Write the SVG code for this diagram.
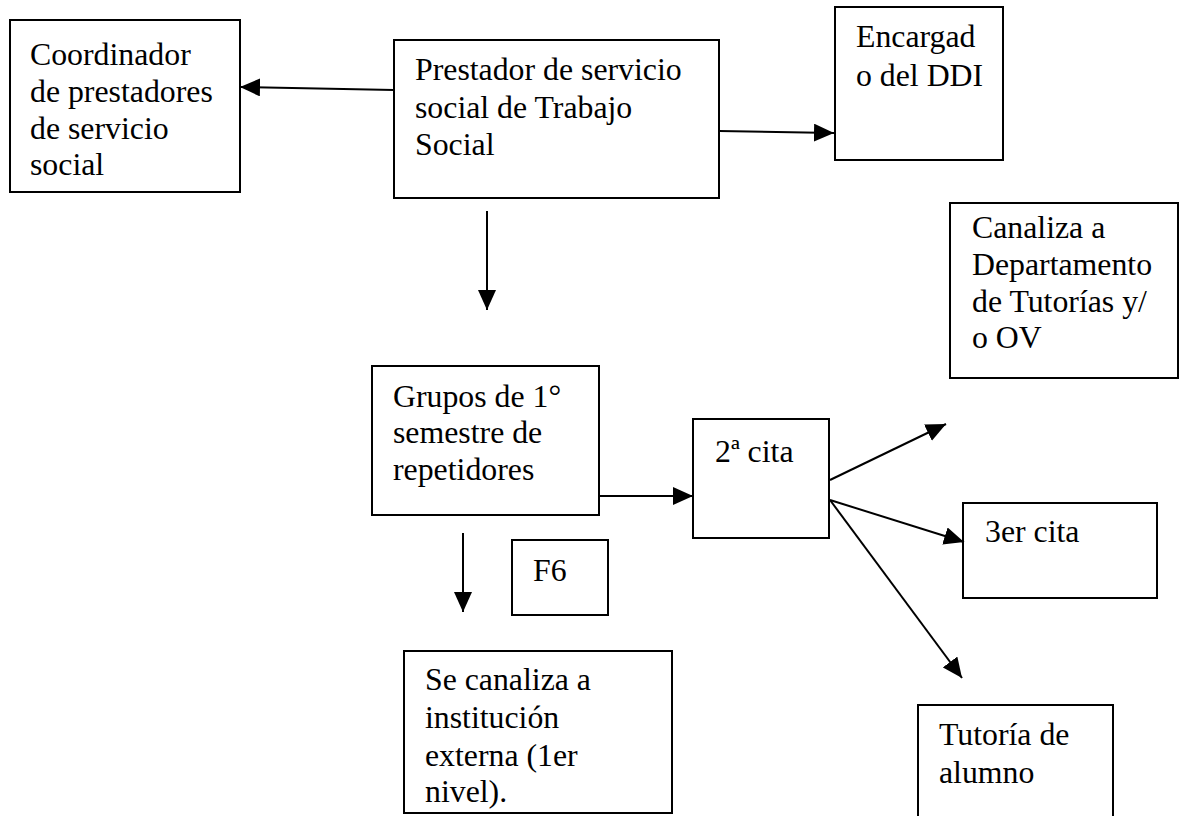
<svg xmlns="http://www.w3.org/2000/svg" width="1182" height="816" viewBox="0 0 1182 816">
<style>
.box{fill:#fff;stroke:#000;stroke-width:2}
.t{font-family:'Liberation Serif',Tinos,'Times New Roman',Times,'DejaVu Serif',serif;font-size:31.8px;fill:#000}
.c{stroke:#000;stroke-width:2;fill:none}
</style>
<defs>
<marker id="ah" viewBox="0 0 20 18" refX="20" refY="9" markerWidth="20" markerHeight="18" markerUnits="userSpaceOnUse" orient="auto">
<path d="M0,0 L20,9 L0,18 Z" fill="#000"/>
</marker>
</defs>
<rect width="1182" height="816" fill="#fff"/>
<g id="coordinador">
<rect class="box" x="10" y="20" width="230" height="172"/>
<text class="t" x="30" y="65">Coordinador</text>
<text class="t" x="30" y="102">de prestadores</text>
<text class="t" x="30" y="139">de servicio</text>
<text class="t" x="30" y="175">social</text>
</g>
<g id="prestador">
<rect class="box" x="394" y="40" width="325" height="158"/>
<text class="t" x="415" y="80">Prestador de servicio</text>
<text class="t" x="415" y="118">social de Trabajo</text>
<text class="t" x="415" y="155">Social</text>
</g>
<g id="encargado">
<rect class="box" x="835" y="7" width="168" height="153"/>
<text class="t" x="856" y="47">Encargad</text>
<text class="t" x="856" y="86">o del DDI</text>
</g>
<g id="canaliza">
<rect class="box" x="950" y="203" width="228" height="175"/>
<text class="t" x="972" y="238">Canaliza a</text>
<text class="t" x="972" y="275">Departamento</text>
<text class="t" x="972" y="312">de Tutorías y/</text>
<text class="t" x="972" y="348">o OV</text>
</g>
<g id="grupos">
<rect class="box" x="372" y="366" width="227" height="149"/>
<text class="t" x="393" y="407">Grupos de 1°</text>
<text class="t" x="393" y="443">semestre de</text>
<text class="t" x="393" y="480">repetidores</text>
</g>
<g id="cita2">
<rect class="box" x="693" y="419" width="136" height="119"/>
<text class="t" x="715" y="462">2ª cita</text>
</g>
<g id="cita3">
<rect class="box" x="963" y="503" width="194" height="95"/>
<text class="t" x="985" y="542">3er cita</text>
</g>
<g id="f6">
<rect class="box" x="512" y="540" width="96" height="75"/>
<text class="t" x="533" y="581">F6</text>
</g>
<g id="institucion">
<rect class="box" x="404" y="651" width="268" height="162"/>
<text class="t" x="425" y="690">Se canaliza a</text>
<text class="t" x="425" y="728">institución</text>
<text class="t" x="425" y="766">externa (1er</text>
<text class="t" x="425" y="802">nivel).</text>
</g>
<g id="tutoria">
<rect class="box" x="918" y="705" width="195" height="130"/>
<text class="t" x="939" y="745">Tutoría de</text>
<text class="t" x="939" y="783">alumno</text>
</g>
<g id="connectors">
<line class="c" x1="394" y1="90" x2="240" y2="87" marker-end="url(#ah)"/>
<line class="c" x1="719" y1="131" x2="834" y2="133" marker-end="url(#ah)"/>
<line class="c" x1="487" y1="211" x2="487" y2="310" marker-end="url(#ah)"/>
<line class="c" x1="599" y1="496" x2="693" y2="496" marker-end="url(#ah)"/>
<line class="c" x1="830" y1="480" x2="946" y2="424" marker-end="url(#ah)"/>
<line class="c" x1="830" y1="500" x2="964" y2="542" marker-end="url(#ah)"/>
<line class="c" x1="830" y1="500" x2="962" y2="678" marker-end="url(#ah)"/>
<line class="c" x1="463" y1="533" x2="463" y2="612" marker-end="url(#ah)"/>
</g>
</svg>
